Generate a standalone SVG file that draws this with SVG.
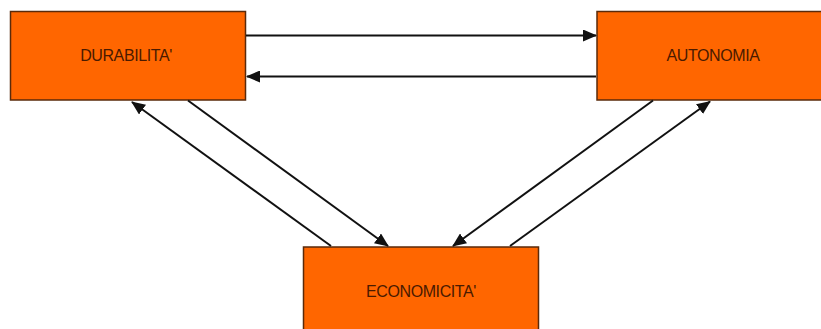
<svg xmlns="http://www.w3.org/2000/svg" width="821" height="329" viewBox="0 0 821 329">
<style>
.box{fill:#FF6600;stroke:#5a2a0a;stroke-width:1.5}
.lbl{font-family:"Liberation Sans",Arial,sans-serif;font-size:16px;fill:#4a1a00;text-anchor:middle;dominant-baseline:central;letter-spacing:-0.4px}
.conn line{stroke:#111;stroke-width:2;marker-end:url(#ah)}
</style>
<defs>
<marker id="ah" markerUnits="userSpaceOnUse" markerWidth="14" markerHeight="12" refX="13" refY="6" orient="auto">
<path d="M0,0 L14,6 L0,12 Z" fill="#111"/>
</marker>
</defs>
<rect width="821" height="329" fill="#fff"/>
<g id="durabilita">
<rect class="box" x="10.5" y="11.5" width="235" height="88.5"/>
<text class="lbl" x="126" y="55">DURABILITA'</text>
</g>
<g id="autonomia">
<rect class="box" x="597" y="11.5" width="230" height="88.5"/>
<text class="lbl" x="713" y="55">AUTONOMIA</text>
</g>
<g id="economicita">
<rect class="box" x="303.5" y="247" width="235" height="90"/>
<text class="lbl" x="421" y="291">ECONOMICITA'</text>
</g>
<g class="conn" id="connectors">
<line x1="246" y1="35.5" x2="596" y2="35.5"/>
<line x1="596" y1="76.5" x2="247" y2="76.5"/>
<line x1="331" y1="246" x2="132" y2="102"/>
<line x1="188" y1="100.5" x2="388" y2="246"/>
<line x1="653" y1="100.5" x2="453" y2="246"/>
<line x1="510" y1="246" x2="710" y2="101.5"/>
</g>
</svg>
